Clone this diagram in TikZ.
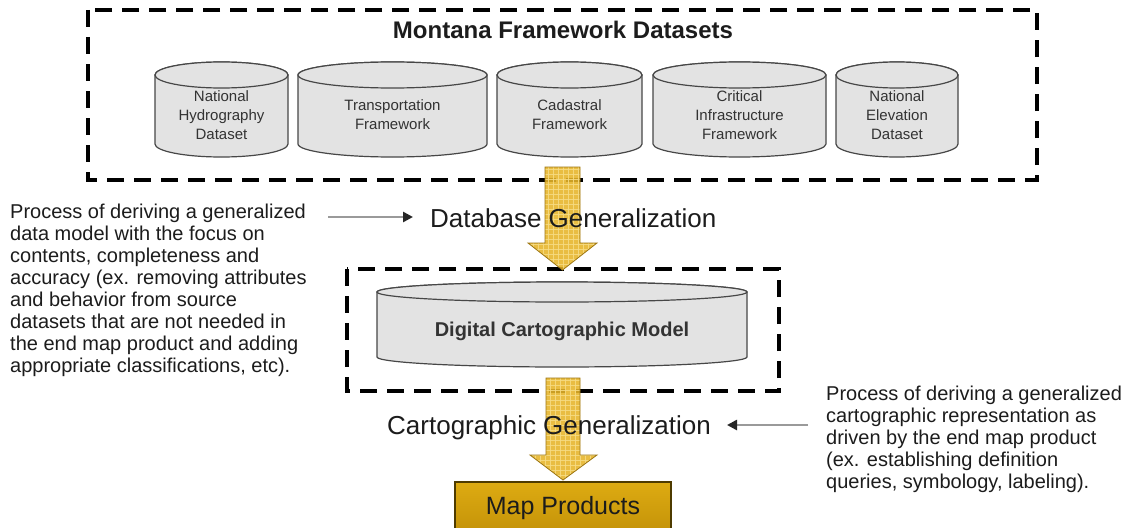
\documentclass[tikz,border=0pt]{standalone}
\usepackage{fontspec}
\setmainfont{Liberation Sans}
\usetikzlibrary{arrows.meta}
\definecolor{cylfill}{HTML}{E3E3E3}
\definecolor{cylline}{HTML}{474747}
\definecolor{gold}{HTML}{E6B428}
\definecolor{goldgrid}{HTML}{F7DC84}
\definecolor{goldline}{HTML}{9C7612}
\definecolor{maptop}{HTML}{DDAB12}
\definecolor{mapbot}{HTML}{C39208}
\definecolor{mapline}{HTML}{4E3B00}
\definecolor{txt}{HTML}{1C1C1C}
\definecolor{cyltxt}{HTML}{333333}
\definecolor{pointer}{HTML}{9A9A9A}

\newcommand\dbcyl[5]{% x left, x right, y top, y bottom, y radius
  \pgfmathsetmacro\cylrx{(#2-#1)/2}%
  \pgfmathsetmacro\cylcx{(#2+#1)/2}%
  \filldraw[cylbody] (#1,#3+#5) -- (#1,#4-#5)
     arc[start angle=180,end angle=0,x radius=\cylrx,y radius=#5]
     -- (#2,#3+#5)
     arc[start angle=0,end angle=-180,x radius=\cylrx,y radius=#5] -- cycle;
  \draw[cylbody] (\cylcx,#3+#5) ellipse[x radius=\cylrx,y radius=#5];
}
\newcommand\goldarrow[7]{% shaft left, shaft right, top, head top, head left, head right, tip y
  \pgfmathsetmacro\garcx{(#1+#2)/2}%
  \fill[gold,fill opacity=0.88] (#1,#3) -- (#2,#3) -- (#2,#4) -- (#6,#4) -- (\garcx,#7) -- (#5,#4) -- (#1,#4) -- cycle;
  \begin{scope}
    \clip (#1,#3) -- (#2,#3) -- (#2,#4) -- (#6,#4) -- (\garcx,#7) -- (#5,#4) -- (#1,#4) -- cycle;
    \foreach \gx in {0,5,...,75} {\draw[goldgrid,line width=1pt,opacity=0.85] (#5+\gx,#3) -- (#5+\gx,#7);}
    \foreach \gy in {2,7,...,120} {\draw[goldgrid,line width=1pt,opacity=0.85] (#5,#3+\gy) -- (#6,#3+\gy);}
  \end{scope}
  \draw[goldline,line width=0.8pt] (#1,#3) -- (#2,#3) -- (#2,#4) -- (#6,#4) -- (\garcx,#7) -- (#5,#4) -- (#1,#4) -- cycle;
}

\begin{document}
\begin{tikzpicture}[x=1pt,y=-1pt,
  cylbody/.style={fill=cylfill,draw=cylline,line width=1.2pt},
  dashbox/.style={draw=black,line width=4.5pt,dash pattern=on 17pt off 10pt},
  cyltext/.style={font=\fontsize{15}{19}\selectfont,text=cyltxt,align=center,inner sep=0pt},
  bodytext/.style={font=\fontsize{20}{22}\selectfont,text=txt,align=left,inner sep=0pt},
  steplabel/.style={font=\fontsize{26}{30}\selectfont,text=txt,inner sep=0pt},
  pointerline/.style={draw=pointer,line width=2.8pt,-{Triangle[length=10pt,width=10pt,color=black!85]}},
  mapbox/.style={draw=mapline,line width=1.4pt,top color=maptop,bottom color=mapbot,
     minimum width=216pt,minimum height=52pt,font=\fontsize{25}{28}\selectfont,text=txt,inner sep=0pt}]
\useasboundingbox (0,0) rectangle (1131,527);
\fill[white] (0,0) rectangle (1131,527);

% dashed frames
\draw[dashbox] (88,10) rectangle (1037,180);
\draw[dashbox] (347,269) rectangle (779,391);

% title
\node[font=\bfseries\fontsize{24}{28}\selectfont,text=txt,inner sep=0pt,anchor=base] (title) at (563,39) {Montana Framework Datasets};

% framework cylinders
\dbcyl{155}{288}{62}{157}{13}
\dbcyl{298}{487}{62}{157}{13}
\dbcyl{497}{642}{62}{157}{13}
\dbcyl{653}{826}{62}{157}{13}
\dbcyl{836}{958}{62}{157}{13}
\node[cyltext] (nhd) at (221.5,115) {National\\Hydrography\\Dataset};
\node[cyltext] (trans) at (392.5,115) {Transportation\\Framework};
\node[cyltext] (cad) at (569.5,115) {Cadastral\\Framework};
\node[cyltext] (cif) at (739.5,115) {Critical\\Infrastructure\\Framework};
\node[cyltext] (ned) at (897,115) {National\\Elevation\\Dataset};

% digital cartographic model
\dbcyl{377}{747}{282}{367}{10}
\node[font=\bfseries\fontsize{20}{24}\selectfont,text=cyltxt,inner sep=0pt] (dcm) at (562,331) {Digital Cartographic Model};

% gold arrows
\goldarrow{545}{580}{167}{243}{528}{597}{270}
\goldarrow{546}{580}{378}{455}{530}{597}{480}

% map products
\node[mapbox] (map) at (563,508) {Map Products};

% step labels
\node[steplabel,anchor=base west] (dbgen) at (430,227) {Database Generalization};
\node[steplabel,anchor=base west] (cartgen) at (387,434) {Cartographic Generalization};

% descriptions
\node[bodytext,anchor=north west] (ldesc) at (10,204) {Process of deriving a generalized\\data model with the focus on\\contents, completeness and\\accuracy (ex. removing attributes\\and behavior from source\\datasets that are not needed in\\the end map product and adding\\appropriate classifications, etc).};
\node[bodytext,anchor=north west] (rdesc) at (826,386) {Process of deriving a generalized\\cartographic representation as\\driven by the end map product\\(ex. establishing definition\\queries, symbology, labeling).};

% pointers
\coordinate (p1s) at (328,217);
\coordinate (p1e) at (413,217);
\coordinate (p2s) at (808,425);
\coordinate (p2e) at (727,425);
\draw[pointerline] (p1s) -- (p1e);
\draw[pointerline] (p2s) -- (p2e);
\end{tikzpicture}
\end{document}
